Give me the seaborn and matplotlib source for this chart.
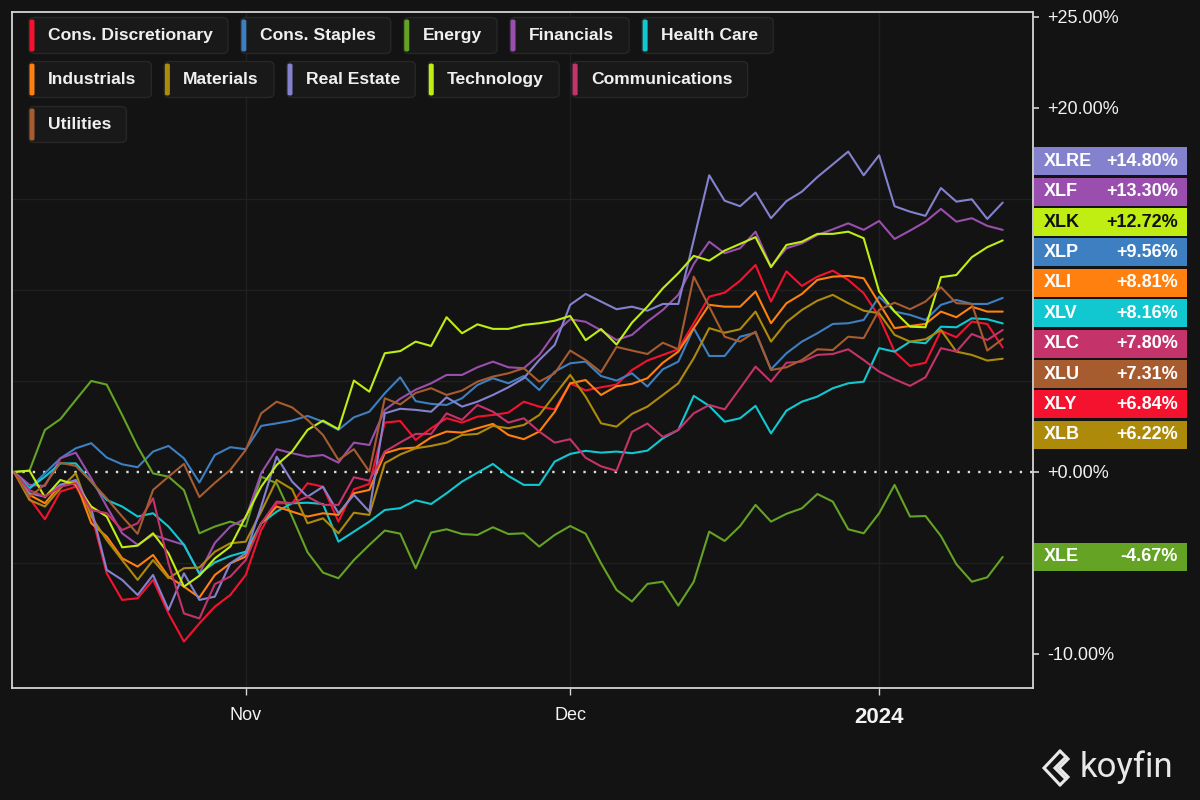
import numpy as np
import pandas as pd
import matplotlib
matplotlib.use("Agg")
import matplotlib.pyplot as plt
import seaborn as sns
from matplotlib.patches import FancyBboxPatch
from matplotlib.ticker import MultipleLocator, FuncFormatter, FixedLocator
from matplotlib.lines import Line2D

# ---------------- data (trading-day index 0..64, % change since start) -------------
sectors = ["Cons. Discretionary", "Cons. Staples", "Energy", "Financials", "Health Care",
           "Industrials", "Materials", "Real Estate", "Technology", "Communications", "Utilities"]
tickers = ["XLY", "XLP", "XLE", "XLF", "XLV", "XLI", "XLB", "XLRE", "XLK", "XLC", "XLU"]
colors = ["#f5122f", "#3d7fc0", "#64a324", "#9a4fae", "#12c8d0", "#ff800e", "#ae8a0b",
          "#8482cf", "#c0ee12", "#c4336a", "#a75c30"]
legend_rows = [[0, 1, 2, 3, 4], [5, 6, 7, 8, 9], [10]]

month_labels = ["Nov", "Dec", "2024"]
month_index = [15, 36, 56]
ytick_values = [-10, 0, 20, 25]

cons_discretionary = [0, -1.45, -2.6, -1.08, -0.81, -2.27, -5.57, -7.03, -6.94, -5.93, -7.77, -9.32, -8.32,
                      -7.4, -6.76, -5.66, -3.19, -1.72, -1.72, -0.62, -0.81, -2.73, -0.95, -0.66, 2.71, 2.8,
                      1.76, 2.4, 2.95, 2.71, 3.04, 3.13, 3.26, 3.86, 3.59, 3.44, 4.87, 4.48, 4.65, 4.8, 5.6,
                      6.12, 6.43, 6.74, 8.17, 9.63, 9.85, 10.51, 11.37, 9.36, 11.02, 10.22, 10.73, 11.06,
                      10.55, 9.82, 8.53, 6.61, 5.82, 6.0, 7.76, 7.4, 8.26, 8.13, 6.84]
cons_staples = [0, -0.9, -0.07, 0.75, 1.3, 1.58, 0.79, 0.42, 0.26, 1.12, 1.43, 0.75, -0.58, 0.93, 1.36,
                1.25, 2.53, 2.67, 2.82, 3.08, 2.76, 2.31, 3.0, 3.31, 4.32, 5.2, 3.89, 3.74, 3.68, 4.05,
                4.78, 5.15, 4.87, 5.27, 4.5, 5.51, 5.97, 6.06, 5.27, 5.02, 5.42, 4.69, 5.64, 6.06, 7.9,
                6.37, 6.37, 7.43, 7.65, 5.64, 6.52, 7.16, 7.62, 8.13, 8.17, 8.35, 9.63, 8.81, 8.63, 8.35,
                9.18, 9.45, 9.23, 9.23, 9.56]
energy = [0, 0.07, 2.31, 2.9, 3.96, 5.0, 4.8, 3.13, 1.39, -0.08, -0.26, -1.0, -3.37, -3.0, -2.73, -3.0,
          -0.26, -0.62, -2.45, -4.41, -5.53, -5.84, -4.84, -4.01, -3.22, -3.39, -5.29, -3.33, -3.15,
          -3.41, -3.46, -3.04, -3.41, -3.37, -4.1, -3.46, -2.97, -3.39, -5.02, -6.48, -7.12, -6.15,
          -6.03, -7.34, -6.03, -3.28, -3.79, -2.97, -1.81, -2.73, -2.3, -2.0, -1.21, -1.63, -3.15,
          -3.37, -2.27, -0.71, -2.45, -2.42, -3.52, -5.07, -6.03, -5.79, -4.67]
financials = [0, -0.71, -0.77, 0.75, 1.06, -0.35, -1.9, -3.37, -4.0, -3.46, -3.74, -4.0, -5.57, -3.9,
              -3.0, -2.55, -0.07, 1.25, 1.03, 0.84, 0.93, 0.51, 1.61, 1.48, 3.41, 4.02, 4.52, 4.87, 5.33,
              5.33, 5.75, 6.06, 5.75, 5.7, 6.43, 7.62, 8.39, 8.25, 7.78, 7.25, 7.53, 8.26, 8.9, 9.73,
              11.43, 12.65, 12.02, 12.29, 13.2, 11.28, 12.29, 12.56, 13.02, 13.33, 13.66, 13.3, 13.79,
              12.8, 13.26, 13.75, 14.45, 13.75, 13.94, 13.52, 13.3]
health_care = [0, -0.9, -0.26, 0.47, 0.47, -0.53, -1.54, -1.9, -2.45, -2.27, -3.0, -4.0, -5.6, -4.97,
               -4.62, -4.38, -2.82, -2.18, -1.72, -1.69, -1.76, -3.83, -3.28, -2.73, -2.09, -1.99, -1.56,
               -1.76, -1.17, -0.53, -0.04, 0.44, -0.22, -0.71, -0.71, 0.57, 0.99, 1.16, 1.06, 1.12, 1.03,
               1.17, 1.85, 2.31, 4.18, 3.63, 2.76, 2.95, 3.63, 2.12, 3.37, 3.86, 4.14, 4.6, 4.87, 4.96,
               6.8, 6.61, 7.16, 7.07, 7.98, 7.95, 8.44, 8.39, 8.16]
industrials = [0, -1.26, -1.72, -0.71, -0.53, -2.82, -3.55, -4.74, -5.2, -4.56, -5.75, -6.3, -6.9, -5.66,
               -5.02, -4.65, -2.82, -1.9, -2.18, -2.45, -2.27, -2.36, -1.17, -0.99, 1.03, 1.28, 1.34, 1.9,
               2.22, 2.16, 2.4, 2.64, 2.03, 1.8, 2.22, 3.31, 4.87, 5.05, 4.23, 4.71, 4.84, 5.15, 6.0, 6.61,
               7.9, 9.18, 9.08, 9.08, 9.91, 8.17, 9.27, 9.78, 10.55, 10.73, 10.77, 10.64, 9.27, 7.9, 8.02,
               8.13, 8.81, 8.5, 9.08, 8.81, 8.81]
materials = [0, -1.54, -1.9, -0.9, -0.07, -2.45, -3.74, -4.84, -5.93, -4.84, -5.84, -5.29, -5.25, -4.38,
             -3.92, -3.83, -2.18, -0.44, -0.95, -2.82, -2.55, -3.37, -2.24, -2.36, 0.48, 0.96, 1.3, 1.43,
             1.61, 2.03, 2.09, 2.53, 2.4, 2.58, 3.13, 4.23, 5.33, 4.14, 2.67, 2.49, 3.19, 3.59, 4.23, 4.87,
             6.25, 7.9, 7.65, 7.84, 8.81, 7.16, 8.23, 8.9, 9.41, 9.73, 9.27, 8.86, 8.72, 7.53, 7.16, 7.29,
             7.8, 6.61, 6.43, 6.12, 6.22]
real_estate = [0, -1.17, -1.36, -0.71, -0.44, -2.0, -5.38, -5.93, -6.76, -5.66, -7.58, -5.57, -7.03, -6.85,
               -5.02, -4.47, -1.9, 0.84, -0.53, -1.36, -0.81, -2.27, -1.26, -2.18, 3.22, 3.47, 3.41, 3.31,
               4.1, 3.59, 3.86, 4.23, 4.65, 5.15, 6.15, 6.98, 9.18, 9.78, 9.36, 8.94, 9.08, 8.86, 9.23,
               9.23, 12.75, 16.3, 14.9, 14.6, 15.35, 13.94, 14.88, 15.4, 16.2, 16.9, 17.6, 16.3, 17.4,
               14.6, 14.3, 14.07, 15.6, 14.85, 14.98, 13.9, 14.8]
technology = [0, 0.07, -1.39, -0.44, -0.71, -1.9, -2.45, -4.14, -4.05, -3.37, -4.47, -6.3, -5.7, -4.75,
              -4.1, -2.45, -0.81, 0.38, 1.12, 2.31, 2.82, 2.35, 5.02, 4.41, 6.52, 6.64, 7.16, 6.92, 8.5,
              7.62, 8.11, 7.86, 7.86, 8.08, 8.17, 8.31, 8.57, 7.24, 7.85, 7.0, 8.2, 9.08, 10.09, 10.92,
              11.87, 11.61, 12.16, 12.53, 12.9, 11.25, 12.47, 12.65, 13.08, 13.08, 13.2, 12.84, 9.91,
              8.81, 7.98, 7.95, 10.7, 10.82, 11.8, 12.35, 12.72]
communications = [0, -1.0, -1.36, -0.81, -0.62, -2.09, -2.27, -3.19, -2.82, -1.45, -5.02, -7.77, -8.05,
                  -6.16, -5.75, -4.84, -2.82, -1.63, -1.72, -1.36, -1.81, -1.81, -0.29, -0.48, 1.12, 1.62,
                  2.09, 2.09, 3.22, 2.86, 3.68, 3.31, 2.71, 2.95, 2.22, 1.61, 1.8, 0.78, 0.31, 0.06, 2.2,
                  2.66, 1.92, 2.31, 3.22, 3.68, 3.44, 4.6, 5.79, 4.96, 6.0, 6.06, 6.43, 6.48, 6.74, 6.15,
                  5.51, 5.09, 4.73, 5.2, 6.8, 6.61, 7.58, 7.25, 7.8]
utilities = [0, -1.36, -0.7, 0.51, 0.33, -0.53, -1.45, -2.45, -3.4, -0.99, -0.26, 0.44, -1.38, -0.6, 0.11,
             1.21, 3.22, 3.86, 3.55, 2.86, 2.03, 0.66, 1.25, 0.02, 4.05, 3.71, 4.34, 4.6, 4.23, 4.47, 4.96,
             5.24, 5.42, 5.7, 4.96, 5.42, 6.67, 6.15, 5.48, 6.87, 6.67, 6.48, 7.1, 6.74, 10.73, 9.08, 7.43,
             7.16, 7.71, 5.6, 5.75, 6.15, 6.74, 6.7, 7.43, 7.35, 8.9, 9.3, 8.94, 9.36, 10.15, 9.27, 9.23,
             6.67, 7.31]

series = [cons_discretionary, cons_staples, energy, financials, health_care, industrials,
          materials, real_estate, technology, communications, utilities]

# ---------------- styling --------------------------------------------------------------
BG = "#131313"
W, H = 1200, 800
sns.set_theme(style="dark")
plt.rcParams["font.family"] = ["Liberation Sans", "DejaVu Sans"]
plt.rcParams["axes.unicode_minus"] = False

rows = []
for name, vals in zip(sectors, series):
    for i, v in enumerate(vals):
        rows.append({"day": i, "sector": name, "ret": v})
df = pd.DataFrame(rows)

fig = plt.figure(figsize=(12, 8), dpi=100, facecolor=BG)
ax = fig.add_axes([12 / W, 1 - 688 / H, (1033 - 12) / W, (688 - 12) / H])
ax.set_facecolor(BG)

sns.lineplot(data=df, x="day", y="ret", hue="sector", hue_order=sectors,
             palette=dict(zip(sectors, colors)), linewidth=1.5, legend=False,
             estimator=None, ax=ax)

ax.set_xlim(-0.13, 65.96)
ax.set_ylim(-11.87, 25.27)
ax.axhline(0, color="#e0e0e0", lw=1.7, ls=(0, (1, 3.4)), zorder=1.8)

# axes decoration
for sp in ax.spines.values():
    sp.set_visible(True)
    sp.set_color("#d4d4d4")
    sp.set_linewidth(1.3)
ax.set_xlabel("")
ax.set_ylabel("")
ax.yaxis.tick_right()
ax.yaxis.set_major_locator(FixedLocator(ytick_values))
ax.yaxis.set_minor_locator(MultipleLocator(5))
ax.yaxis.set_major_formatter(FuncFormatter(lambda v, p: f"{v:+.2f}%"))
ax.set_xticks(month_index, month_labels)
ax.tick_params(axis="y", which="major", direction="out", length=4, width=1.2, color="#d4d4d4",
               labelcolor="#f2f2f2", labelsize=13, pad=6, right=True, left=False)
ax.tick_params(axis="y", which="minor", length=0)
ax.tick_params(axis="x", direction="out", length=5, width=1, color="#d4d4d4",
               labelcolor="#f2f2f2", labelsize=13, pad=9, bottom=True)
for lab in ax.get_xticklabels():
    if lab.get_text() == "2024":
        lab.set_fontsize(16)
        lab.set_fontweight("bold")
ax.grid(False)
ax.grid(True, axis="y", which="minor", color="#202020", lw=1)
ax.grid(True, axis="x", which="major", color="#202020", lw=1)
ax.set_axisbelow(True)

# ---------------- right-hand value labels ------------------------------------------------
fig.canvas.draw()
renderer = fig.canvas.get_renderer()
last_vals = [s[-1] for s in series]
order = sorted(range(len(series)), key=lambda k: -last_vals[k])
nat = [H - ax.transData.transform((0, last_vals[k]))[1] for k in order]  # px from top
pitch = 30.4
blocks = [[j] for j in range(len(order))]

def block_pos(b):
    c = np.mean([nat[j] for j in b])
    n = len(b)
    return [c + (m - (n - 1) / 2) * pitch for m in range(n)]

changed = True
while changed:
    changed = False
    for j in range(len(blocks) - 1):
        a, b = block_pos(blocks[j]), block_pos(blocks[j + 1])
        if b[0] - a[-1] < pitch:
            blocks[j] = blocks[j] + blocks[j + 1]
            del blocks[j + 1]
            changed = True
            break
ypos = {}
for b in blocks:
    for j, y in zip(b, block_pos(b)):
        ypos[order[j]] = y

for k in range(len(series)):
    yc = ypos[k]
    bh = 28
    fig.patches.append(FancyBboxPatch((1034 / W, 1 - (yc + bh / 2) / H), 153 / W, bh / H,
                                      boxstyle="square,pad=0", transform=fig.transFigure,
                                      facecolor=colors[k], edgecolor="none", zorder=5))
    tc = "#111111" if tickers[k] == "XLK" else "#ffffff"
    fig.text(1044 / W, 1 - yc / H, tickers[k], color=tc, fontsize=13, fontweight="bold",
             ha="left", va="center", zorder=6)
    fig.text(1178 / W, 1 - yc / H, f"{last_vals[k]:+.2f}%", color=tc, fontsize=13,
             fontweight="bold", ha="right", va="center", zorder=6)

# ---------------- legend chips -----------------------------------------------------------
row_y = [35.5, 79.5, 124.5]
for r, idxs in enumerate(legend_rows):
    x = 29
    yc = row_y[r]
    for k in idxs:
        t = fig.text((x + 19) / W, 1 - yc / H, sectors[k], color="#f0f0f0", fontsize=12.6,
                     fontweight="bold", ha="left", va="center", zorder=7)
        wpx = t.get_window_extent(renderer).width
        bw = 19 + wpx + 15
        fig.patches.append(FancyBboxPatch((x / W, 1 - (yc + 18) / H), bw / W, 36 / H,
                                          boxstyle="round,pad=0,rounding_size=0.005",
                                          transform=fig.transFigure, facecolor="#191919",
                                          edgecolor="#272727", lw=1, zorder=5))
        fig.patches.append(FancyBboxPatch(((x + 0.5) / W, 1 - (yc + 16) / H), 5 / W, 32 / H,
                                          boxstyle="round,pad=0,rounding_size=0.002",
                                          transform=fig.transFigure, facecolor=colors[k],
                                          edgecolor="none", zorder=6))
        x = x + bw + 13

# ---------------- koyfin mark ------------------------------------------------------------
def fx(px):
    return px / W

def fy(py):
    return 1 - py / H

logo = [[(1060, 751), (1044, 768), (1060, 785)],
        [(1060, 751), (1068, 759), (1059, 768), (1068, 777), (1060, 785)],
        [(1066, 757), (1055, 768), (1066, 779)]]
for pts in logo:
    fig.add_artist(Line2D([fx(p[0]) for p in pts], [fy(p[1]) for p in pts], color="#e8e8e8",
                          lw=2.2, transform=fig.transFigure, solid_joinstyle="miter"))
fig.text(1080 / W, 1 - 767 / H, "koyfin", color="#e8e8e8", fontsize=25, ha="left", va="center",
         family=["Roboto", "DejaVu Sans"])

fig.savefig("out.png", dpi=100, facecolor=BG)
